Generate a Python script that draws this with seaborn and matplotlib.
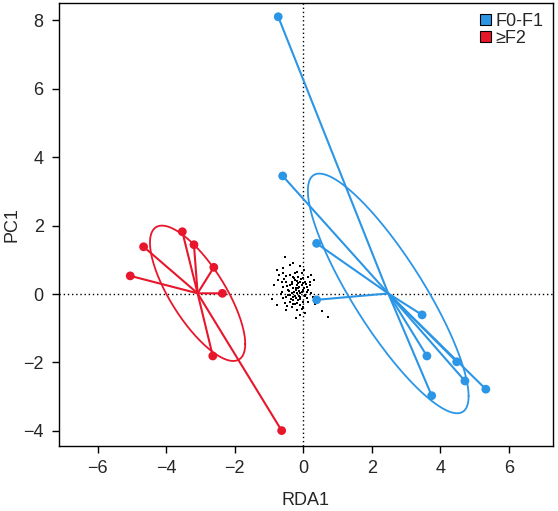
import numpy as np
import pandas as pd
import matplotlib
matplotlib.use("Agg")
import matplotlib.pyplot as plt
from matplotlib.patches import Patch
import seaborn as sns

# --- site scores (RDA1 / PC1) ---
grp_a_x = [-0.73, -0.60, 0.39, 0.39, 3.47, 3.61, 4.48, 4.72, 5.33, 3.75]
grp_a_y = [8.10, 3.45, 1.48, -0.17, -0.61, -1.81, -1.98, -2.54, -2.78, -2.97]
grp_b_x = [-3.53, -3.19, -4.66, -2.61, -5.05, -2.36, -2.64, -0.63]
grp_b_y = [1.82, 1.44, 1.38, 0.78, 0.53, 0.02, -1.81, -3.99]
groups = ["F0-F1", "\u2265F2"]
colors = ["#2B95E6", "#E8162B"]

# --- species scores (black cloud) ---
sp_x = [-0.54, -0.29, -0.78, -0.58, -0.60, -0.10, -0.19, -0.05, -0.39, -0.51,
        -0.29, -0.15, 0.00, 0.15, -0.73, -0.63, -0.49, -0.24, -0.10, 0.05,
        0.19, -0.39, -0.19, -0.05, 0.10, -0.58, -0.29, -0.15, 0.00, -0.44,
        0.15, -0.63, -0.34, -0.19, -0.10, 0.24, -0.39, -0.24, -0.10, 0.05,
        -0.49, -0.58, -0.92, -0.29, -0.15, 0.00, -0.39, 0.15, -0.54, -0.24,
        -0.10, -0.78, -0.34, 0.00, -0.19, -0.49, 0.54, -0.10, 0.73, -0.29,
        -0.15, -0.34, -0.21, -0.32, -0.12, -0.05, -0.22, -0.41, 0.08, -0.17,
        -0.27, -0.08, 0.05, -0.36, -0.13, -0.02, 0.12, -0.46, -0.26, -0.07,
        0.02, -0.31, -0.20, -0.11, 0.10, -0.44, -0.17, 0.20, -0.55, -0.66,
        0.28, -0.03, -0.25, 0.22, -0.70, 0.30, -0.48, 0.05, -0.22, 0.35,
        -0.85, -0.40, 0.02]
sp_y = [1.09, 0.91, 0.70, 0.75, 0.60, 0.82, 0.65, 0.60, 0.55, 0.53,
        0.49, 0.51, 0.46, 0.49, 0.41, 0.36, 0.36, 0.41, 0.36, 0.36,
        0.36, 0.26, 0.26, 0.26, 0.21, 0.21, 0.17, 0.17, 0.12, 0.12,
        0.12, 0.07, 0.04, 0.04, 0.02, 0.02, -0.03, -0.06, -0.08, -0.06,
        -0.08, -0.13, -0.16, -0.18, -0.18, -0.22, -0.22, -0.22, -0.27, -0.29,
        -0.32, -0.32, -0.37, -0.37, -0.47, -0.47, -0.49, -0.61, -0.68, -0.08,
        0.31, 0.36, 0.12, 0.28, 0.20, 0.05, -0.12, 0.08, 0.28, 0.38,
        0.05, -0.15, -0.02, -0.15, 0.10, 0.33, 0.05, 0.24, 0.48, 0.44,
        0.19, -0.30, 0.18, -0.05, -0.12, -0.02, -0.25, 0.25, 0.45, 0.00,
        -0.10, -0.45, 0.60, 0.55, 0.55, 0.42, -0.35, -0.55, -0.70, -0.30,
        0.25, 0.85, 0.70]

sites = pd.DataFrame({
    "RDA1": grp_a_x + grp_b_x,
    "PC1": grp_a_y + grp_b_y,
    "group": [groups[0]] * len(grp_a_x) + [groups[1]] * len(grp_b_x),
})
species = pd.DataFrame({"RDA1": sp_x, "PC1": sp_y})

sns.set_style("ticks")
plt.rcParams["font.family"] = ["Liberation Sans", "DejaVu Sans"]

fig = plt.figure(figsize=(5.58, 5.11), dpi=100)
ax = fig.add_axes([0.1057, 0.1272, 0.8853, 0.8668])

# species cloud
sns.scatterplot(data=species, x="RDA1", y="PC1", ax=ax, color="black",
                marker="s", s=4, linewidth=0, zorder=2)

ax.axhline(0, color="black", linestyle=(0, (1, 2)), linewidth=1, zorder=1)
ax.axvline(0, color="black", linestyle=(0, (1, 2)), linewidth=1, zorder=1)

# spiders + sd ellipses
t = np.linspace(0, 2 * np.pi, 200)
for g, c in zip(groups, colors):
    d = sites[sites["group"] == g]
    xy = d[["RDA1", "PC1"]].to_numpy()
    cen = xy.mean(axis=0)
    for px, py in xy:
        ax.plot([cen[0], px], [cen[1], py], color=c, linewidth=1.5, zorder=3)
    L = np.linalg.cholesky(np.cov(xy.T))
    ell = cen + (L @ np.vstack([np.cos(t), np.sin(t)])).T
    ax.plot(ell[:, 0], ell[:, 1], color=c, linewidth=1.3, zorder=3)

sns.scatterplot(data=sites, x="RDA1", y="PC1", hue="group", palette=colors,
                s=40, linewidth=0, ax=ax, legend=False, zorder=4)

ax.set_xlim(-7.13, 7.29)
ax.set_ylim(-4.44, 8.5)
ax.set_xticks([-6, -4, -2, 0, 2, 4, 6])
ax.set_yticks([-4, -2, 0, 2, 4, 6, 8])
ax.set_xticklabels(["\u22126", "\u22124", "\u22122", "0", "2", "4", "6"])
ax.set_yticklabels(["\u22124", "\u22122", "0", "2", "4", "6", "8"])
ax.tick_params(labelsize=13, length=5, width=1, color="black")
ax.tick_params(axis="x", pad=5)
ax.tick_params(axis="y", pad=6)
for sp in ax.spines.values():
    sp.set_visible(True)
    sp.set_linewidth(1)
    sp.set_color("black")
ax.set_xlabel("RDA1", fontsize=13, labelpad=11)
ax.set_ylabel("PC1", fontsize=13, labelpad=2)

handles = [Patch(facecolor=c, edgecolor="black", linewidth=0.8, label=g)
           for g, c in zip(groups, colors)]
ax.legend(handles=handles, loc="upper right", frameon=False, fontsize=13,
          handlelength=0.6, handleheight=0.6, handletextpad=0.25,
          labelspacing=0.0, borderaxespad=0.15)

fig.savefig("out.png", dpi=100)
